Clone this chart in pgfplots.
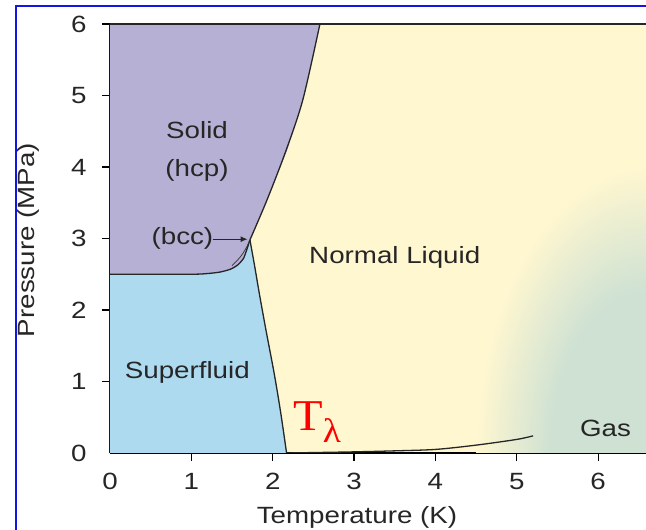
\documentclass[border=0pt]{standalone}
\usepackage{fontspec}
\setmainfont{Liberation Sans}[FakeStretch=1.18]
\newfontfamily\tlfont{Liberation Serif}[FakeStretch=1.1]
\usepackage{pgfplots}
\pgfplotsset{compat=1.18}
\usetikzlibrary{arrows.meta}
\definecolor{solidc}{RGB}{182,176,212}
\definecolor{superc}{RGB}{173,218,239}
\definecolor{liqc}{RGB}{255,247,208}
\definecolor{gasc}{RGB}{206,225,211}
\definecolor{framec}{RGB}{20,20,230}
\pgfdeclareradialshading{gasshade}{\pgfpoint{0bp}{0bp}}{color(0bp)=(gasc); color(14bp)=(gasc); color(25bp)=(liqc); color(50bp)=(liqc)}

\begin{document}
\begin{tikzpicture}[x=1pt,y=1pt]
\path[use as bounding box, fill=white] (-110,-77) rectangle (536,453);
\begin{axis}[at={(0,0)}, anchor=south west, scale only axis,
  width=537pt, height=429pt,
  xmin=0, xmax=6.6, ymin=0, ymax=6,
  axis x line*=bottom, axis y line*=left,
  axis line style={line width=1.6pt, -},
  axis background/.style={fill=liqc},
  xtick={1,...,6}, ytick={1,...,6},
  extra x ticks={0}, extra y ticks={0},
  extra tick style={major tick style={draw=none}},
  tick align=outside, major tick length=8pt,
  tick style={line width=1.2pt, black},
  font=\fontsize{23.5}{28}\selectfont,
  /pgf/number format/assume math mode=true,
  ticklabel style={text=black!85},
  xticklabel style={yshift=-9pt},
  yticklabel style={xshift=-12pt},
  clip=true,
]
% gas region shading
\addplot[draw=none, shading=gasshade] coordinates {(4.5,-4.0) (8.7,-4.0) (8.7,4.0) (4.5,4.0)} -- cycle;
% solid region
\addplot[draw=none, fill=solidc] coordinates {
 (0,2.5) (1.0,2.5) (1.2,2.51) (1.35,2.53) (1.48,2.57) (1.57,2.63) (1.64,2.72) (1.68,2.84) (1.72,2.98)
 (1.93,3.54) (2.18,4.24) (2.37,4.94) (2.58,6.0) (0,6)} -- cycle;
% superfluid region
\addplot[draw=none, fill=superc] coordinates {
 (0,0) (2.17,0) (2.10,0.55) (2.02,1.1) (1.92,1.7) (1.84,2.2) (1.78,2.6) (1.72,2.98)
 (1.68,2.84) (1.64,2.72) (1.57,2.63) (1.48,2.57) (1.35,2.53) (1.2,2.51) (1.0,2.5) (0,2.5)} -- cycle;
% solid / superfluid boundary
\addplot[black!85, line width=1.3pt, smooth, tension=0.4] coordinates {
 (0,2.5) (1.0,2.5) (1.2,2.51) (1.35,2.53) (1.48,2.57) (1.57,2.63) (1.64,2.72) (1.68,2.84) (1.72,2.98)};
% bcc inner line
\addplot[black!80, line width=0.7pt, smooth] coordinates {(1.50,2.62) (1.60,2.74) (1.67,2.86) (1.72,2.98)};
% melting curve
\addplot[black!85, line width=1.3pt, smooth] coordinates {(1.72,2.98) (1.93,3.54) (2.16,4.22) (2.37,4.94) (2.58,6.0)};
% lambda line
\addplot[black!85, line width=1.3pt, smooth] coordinates {(1.72,2.98) (1.78,2.6) (1.84,2.2) (1.92,1.7) (2.02,1.1) (2.10,0.55) (2.17,0)};
% vapour pressure curve
\addplot[black!85, line width=1.3pt, smooth] coordinates {(2.17,0.0) (2.6,0.008) (3.0,0.016) (3.5,0.03) (4.0,0.05) (4.5,0.11) (5.0,0.19) (5.2,0.24)};
% top border
\draw[line width=1.6pt, black!85] (rel axis cs:0,1) -- (rel axis cs:1,1);
% labels
\node[align=center, text=black!85] at (axis cs:1.07,4.22) {Solid\\[10pt](hcp)};
\node[text=black!85] at (axis cs:0.89,3.0) {(bcc)};
\draw[-{Latex[length=7pt,width=6pt]}, line width=1pt, black!85] (axis cs:1.26,2.99) -- (axis cs:1.69,2.99);
\node[text=black!85] at (axis cs:3.5,2.73) {Normal Liquid};
\node[text=black!85] at (axis cs:0.95,1.13) {Superfluid};
\node[text=black!85] at (axis cs:6.09,0.35) {Gas};
\node[anchor=base west, inner sep=0pt, text=red, font=\tlfont\fontsize{44}{44}\selectfont] at (axis cs:2.25,0.32) {T{\fontsize{34}{34}\selectfont\raisebox{-12pt}{λ}}};
\end{axis}
\node[text=black!85, font=\fontsize{23.5}{28}\selectfont] at (247,-64) {Temperature (K)};
\node[text=black!85, rotate=90, font=\fontsize{23.5}{28}\selectfont] at (-82,213) {Pressure (MPa)};
\draw[framec, line width=2pt] (-94,-80) -- (-94,447) -- (540,447);
\end{tikzpicture}
\end{document}
